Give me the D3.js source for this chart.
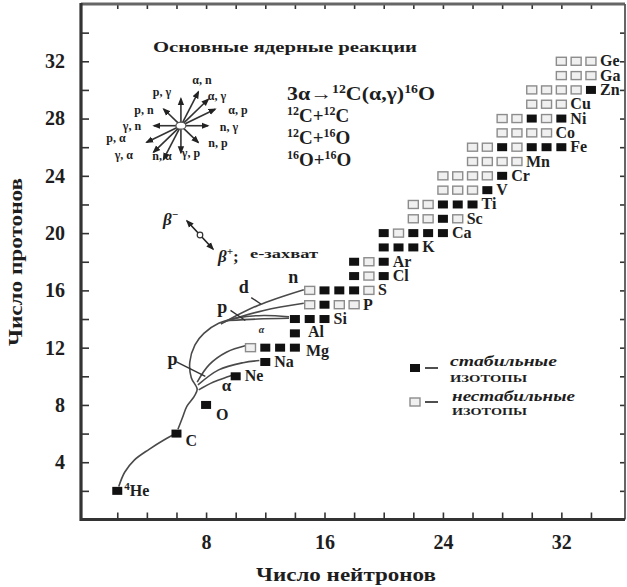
<!DOCTYPE html>
<html>
<head>
<meta charset="utf-8">
<script src="https://cdn.jsdelivr.net/npm/d3@7"></script>
<style>
  body { margin: 0; background: #fff; }
  svg { display: block; }
  text { font-family: "Liberation Serif", "DejaVu Serif", serif; font-weight: bold; fill: #1e1e1e; }
</style>
</head>
<body>
<svg id="chart" width="627" height="587"></svg>
<script>
// ** data: isotopes by row (Z), neutron numbers of stable / unstable squares
const elements = ["He","C","O","Ne","Na","Mg","Al","Si","P","S","Cl","Ar","K","Ca","Sc","Ti","V","Cr","Mn","Fe","Co","Ni","Cu","Zn","Ga","Ge"];
const protons  = [2, 6, 8, 10, 11, 12, 13, 14, 15, 16, 17, 18, 19, 20, 21, 22, 23, 24, 25, 26, 27, 28, 29, 30, 31, 32];
const stableN = [[2],[6],[8],[10],[12],[12,13,14],[14],[14,15,16],[16],[16,17,18],[18,20],[18,20],[20,21,22],[20,22,23,24],[24],[24,25,26],[27],[28],[],[28,30,31,32],[],[30,32],[],[34],[],[]];
const unstableN = [[],[],[],[],[],[11],[],[],[15,17,18],[15,19],[19],[19],[],[21],[22,23,25],[22,23],[24,25,26],[24,25,26,27],[26,27,28,29],[26,27,29],[28,29,30,31],[28,29,31],[30,31,32],[30,31,32,33],[32,33,34],[32,33,34]];

// axis ticks
const xTicks = d3.range(2, 36, 2);
const yTicks = d3.range(2, 36, 2);
const xLabels = [8, 16, 24, 32];
const yLabels = [4, 8, 12, 16, 20, 24, 28, 32];

// reaction paths, [N, Z] points
const pathHeC   = [[2.1,2.3],[2.5,3.3],[3.15,4.15],[4.15,4.9],[5.15,5.55],[5.85,5.95]];
const pathCArc  = [[6.1,6.3],[6.4,7.1],[6.7,7.9],[7.2,8.6],[7.4,9.1],[7.0,9.9],[6.9,11.0],[7.25,12.2],[7.85,13.0],[8.85,13.7],[10.2,14.1],[11.9,14.25],[13.6,14.15]];
const pathNe    = [[7.5,9.05],[8.5,9.6],[9.7,10.05]];
const pathNa    = [[7.45,9.4],[8.85,10.45],[10.5,10.95],[11.6,11.1]];
const pathMg    = [[7.4,9.6],[8.2,10.8],[9.4,11.7],[10.7,12.15]];
const pathN     = [[9.0,13.65],[11.5,14.95],[14.6,16.05]];
const pathP     = [[9.2,13.8],[11.9,14.6],[14.6,15.1]];
const pathSi    = [[9.5,13.9],[11.5,14.0],[13.6,14.05]];
// short crossing marks labelling paths
const markP1 = [[6.0,11.0],[7.95,10.0]];
const markP2 = [[9.65,14.6],[10.65,13.9]];
const markD  = [[11.05,15.5],[11.7,15.05]];

// reaction star: [label, dN, dZ]
const starCenter = [6.3, 27.5];
const reactions = [["p, γ",0,1],["α, n",1,2],["α, γ",2,2],["α, p",2,1],["n, γ",1,0],["n, p",1,-1],
                   ["γ, p",0,-1],["n, α",-1,-2],["γ, α",-2,-2],["p, α",-2,-1],["γ, n",-1,0],["p, n",-1,1]];
// where each reaction's label sits, px from the star centre
const starLabelAt = [[-19,-34],[21,-46],[36,-30],[57,-16],[48,1],[37,17],[10,27],[-19,30],[-57,29],[-65,12],[-49,0],[-37,-16]];

const svg = d3.select("#chart");
const x = d3.scaleLinear().domain([-0.45, 36.3]).range([81, 625]);
const y = d3.scaleLinear().domain([0, 36]).range([519.5, 4]);
const X0 = x.range()[0], X1 = x.range()[1], Y0 = y.range()[0], Y1 = y.range()[1];

svg.append("defs").append("marker").attr("id", "ah").attr("viewBox", "0 -5 10 10").attr("refX", 8).attr("refY", 0)
  .attr("markerWidth", 5).attr("markerHeight", 5).attr("orient", "auto-start-reverse")
  .append("path").attr("d", "M0,-4L10,0L0,4Z").attr("fill", "#222");

// ** axes (ticks point inward)
const axisG = svg.append("g");
const tickFmtY = d => yLabels.includes(d) ? d : "";
const tickFmtX = d => xLabels.includes(d) ? d : "";
axisG.append("g").attr("transform", `translate(${X0},0)`).call(d3.axisLeft(y).tickValues(yTicks).tickSize(-8).tickPadding(16).tickFormat(tickFmtY));
axisG.append("g").attr("transform", `translate(0,${Y0})`).call(d3.axisBottom(x).tickValues(xTicks).tickSize(-7).tickPadding(15).tickFormat(tickFmtX));
axisG.append("g").attr("transform", `translate(0,${Y1})`).call(d3.axisTop(x).tickValues(xTicks).tickSize(-5).tickFormat(""));
axisG.append("g").attr("transform", `translate(${X1},0)`).call(d3.axisRight(y).tickValues(yTicks).tickSize(-5).tickFormat(""));
axisG.selectAll(".domain").remove();
axisG.selectAll(".tick line").attr("stroke", "#333").attr("stroke-width", 1.6);
axisG.selectAll(".tick text").style("font-size", "20px").style("font-family", "'Liberation Serif', serif").style("font-weight", "bold").attr("fill", "#1e1e1e");
// frame
axisG.append("line").attr("x1", X0).attr("x2", X1).attr("y1", Y1).attr("y2", Y1).attr("stroke", "#666").attr("stroke-width", 3);
axisG.append("line").attr("x1", X1).attr("x2", X1).attr("y1", Y1).attr("y2", Y0).attr("stroke", "#555").attr("stroke-width", 1.8);
axisG.append("line").attr("x1", X0).attr("x2", X1).attr("y1", Y0).attr("y2", Y0).attr("stroke", "#333").attr("stroke-width", 3.2);
axisG.append("line").attr("x1", X0).attr("x2", X0).attr("y1", Y1-1).attr("y2", Y0+1.5).attr("stroke", "#333").attr("stroke-width", 3.2);

svg.append("text").attr("x", 346).attr("y", 581).attr("text-anchor", "middle").style("font-size", "19px")
  .attr("textLength", 180).attr("lengthAdjust", "spacingAndGlyphs").text("Число нейтронов");
svg.append("text").attr("transform", "translate(22,262) rotate(-90)").attr("text-anchor", "middle").style("font-size", "19px")
  .attr("textLength", 168).attr("lengthAdjust", "spacingAndGlyphs").text("Число протонов");

// ** reaction paths
const line = d3.line().x(d => x(d[0])).y(d => y(d[1])).curve(d3.curveCatmullRom.alpha(0.5));
const paths = [pathHeC, pathCArc, pathNe, pathNa, pathMg, pathN, pathP, pathSi];
svg.append("g").selectAll("path").data(paths).join("path").attr("d", line)
  .attr("fill", "none").attr("stroke", "#4a4a4a").attr("stroke-width", 1.6);
svg.append("g").selectAll("path").data([markP1, markP2, markD]).join("path").attr("d", d3.line().x(d => x(d[0])).y(d => y(d[1])))
  .attr("stroke", "#333").attr("stroke-width", 1.4);

// ** isotope squares
const cells = [];
protons.forEach((z, i) => {
  stableN[i].forEach(n => cells.push({ n, z, stable: true }));
  unstableN[i].forEach(n => cells.push({ n, z, stable: false }));
});
const SW = 10, SH = 8;
svg.append("g").selectAll("rect").data(cells).join("rect")
  .attr("x", d => x(d.n) - SW/2).attr("y", d => y(d.z) - SH/2).attr("width", SW).attr("height", SH)
  .attr("fill", d => d.stable ? "#111" : "#f0f0f0").attr("stroke", d => d.stable ? "none" : "#8c8c8c").attr("stroke-width", 1.4);

// element labels just right of each row
const labelShift = { He: [-2, 0], C: [0, 7], O: [1, 10], Mg: [2, 3], Al: [4, -1] };
const labG = svg.append("g").style("font-size", "16px");
elements.forEach((el, i) => {
  const maxN = d3.max([...stableN[i], ...unstableN[i]]);
  const [dx, dy] = labelShift[el] || [0, 0];
  const t = labG.append("text").attr("x", x(maxN) + 9 + dx).attr("y", y(protons[i]) + 5 + dy);
  if (el === "He") { t.append("tspan").attr("dy", -6).style("font-size", "11px").text("4"); t.append("tspan").attr("dy", 6).text("He"); }
  else t.text(el);
});

// path labels
const lbl = (px, py, s, size) => svg.append("text").attr("x", px).attr("y", py).style("font-size", size + "px").text(s);
lbl(x(5.4), y(10.8), "p", 18);
lbl(x(9.05), y(9.0), "α", 17);
lbl(x(8.75), y(14.4), "p", 18);
lbl(x(10.2), y(15.85), "d", 18);
lbl(x(13.55), y(16.5), "n", 18);
lbl(x(11.55), y(13.05), "α", 10).style("font-style", "italic");

// ** legend
const leg = svg.append("g");
leg.append("rect").attr("x", 410).attr("y", 364).attr("width", SW).attr("height", SH).attr("fill", "#111");
leg.append("rect").attr("x", 410).attr("y", 398).attr("width", SW).attr("height", SH).attr("fill", "#f0f0f0").attr("stroke", "#8c8c8c").attr("stroke-width", 1.4);
leg.append("line").attr("x1", 425).attr("x2", 438).attr("y1", 368).attr("y2", 368).attr("stroke", "#222").attr("stroke-width", 1.6);
leg.append("line").attr("x1", 425).attr("x2", 438).attr("y1", 402).attr("y2", 402).attr("stroke", "#222").attr("stroke-width", 1.6);
leg.append("text").attr("x", 450).attr("y", 366).style("font-size", "14px").style("font-style", "italic").attr("textLength", 107).attr("lengthAdjust", "spacingAndGlyphs").text("стабильные");
leg.append("text").attr("x", 450).attr("y", 382).style("font-size", "11px").attr("textLength", 77).attr("lengthAdjust", "spacingAndGlyphs").text("ИЗОТОПЫ");
leg.append("text").attr("x", 452).attr("y", 401).style("font-size", "14px").style("font-style", "italic").attr("textLength", 123).attr("lengthAdjust", "spacingAndGlyphs").text("нестабильные");
leg.append("text").attr("x", 452).attr("y", 415).style("font-size", "11px").attr("textLength", 75).attr("lengthAdjust", "spacingAndGlyphs").text("ИЗОТОПЫ");

// ** title and reaction list
svg.append("text").attr("x", 153).attr("y", 52).style("font-size", "15px").attr("textLength", 264).attr("lengthAdjust", "spacingAndGlyphs").text("Основные ядерные реакции");
const richLine = (px, py, parts) => {
  const t = svg.append("text").attr("x", px).attr("y", py).style("font-size", "19px");
  let up = false;
  parts.forEach(([s, sup]) => {
    const dy = sup && !up ? -7 : (!sup && up ? 7 : 0);
    up = sup;
    t.append("tspan").attr("dy", dy).style("font-size", sup ? "12px" : null).text(s);
  });
  return t;
};
richLine(287, 100, [["3α→",0],["12",1],["C(α,γ)",0],["16",1],["O",0]]).attr("textLength", 148).attr("lengthAdjust", "spacingAndGlyphs");
richLine(287, 122, [["12",1],["C+",0],["12",1],["C",0]]);
richLine(287, 144, [["12",1],["C+",0],["16",1],["O",0]]);
richLine(287, 166, [["16",1],["O+",0],["16",1],["O",0]]);

// ** reaction star
const cx = x(starCenter[0]), cy = y(starCenter[1]);
const kx = x(1) - x(0), ky = y(0) - y(1);
const starG = svg.append("g");
const arrows = reactions.map(([label, dn, dz], i) => {
  const vx = dn * kx, vy = -dz * ky, len = Math.hypot(vx, vy);
  const span = Math.abs(dn) + Math.abs(dz);
  const L = span >= 3 || Math.abs(dn) === 2 ? 38 : span === 2 ? 24 : 27;
  return { label, ux: vx/len, uy: vy/len, L, at: starLabelAt[i] };
});
starG.selectAll("line").data(arrows).join("line")
  .attr("x1", d => cx + d.ux*3).attr("y1", d => cy + d.uy*3).attr("x2", d => cx + d.ux*d.L).attr("y2", d => cy + d.uy*d.L)
  .attr("stroke", "#333").attr("stroke-width", 1.6).attr("marker-end", "url(#ah)");
starG.append("ellipse").attr("cx", cx).attr("cy", cy).attr("rx", 5).attr("ry", 3.5).attr("fill", "#fff").attr("stroke", "#555").attr("stroke-width", 1.2);
starG.selectAll("text").data(arrows).join("text")
  .attr("x", d => cx + d.at[0]).attr("y", d => cy + d.at[1] + 4)
  .attr("text-anchor", "middle").style("font-size", "12px").text(d => d.label);

// ** beta decay arrow
const bx1 = 187, by1 = 221, bx2 = 213, by2 = 249;
svg.append("line").attr("x1", bx1).attr("y1", by1).attr("x2", bx2).attr("y2", by2).attr("stroke", "#222").attr("stroke-width", 1.6)
  .attr("marker-start", "url(#ah)").attr("marker-end", "url(#ah)");
svg.append("circle").attr("cx", (bx1+bx2)/2).attr("cy", (by1+by2)/2).attr("r", 2.8).attr("fill", "#fff").attr("stroke", "#333").attr("stroke-width", 1.2);
const bm = svg.append("text").attr("x", 163).attr("y", 225).style("font-size", "17px").style("font-style", "italic");
bm.append("tspan").text("β"); bm.append("tspan").attr("dy", -7).style("font-size", "11px").text("−");
const bp = svg.append("text").attr("x", 218).attr("y", 262).style("font-size", "17px").style("font-style", "italic");
bp.append("tspan").text("β"); bp.append("tspan").attr("dy", -7).style("font-size", "11px").text("+");
bp.append("tspan").attr("dy", 7).style("font-style", "normal").text(";");
svg.append("text").attr("x", 250).attr("y", 258).style("font-size", "12px").attr("textLength", 68).attr("lengthAdjust", "spacingAndGlyphs").text("е-захват");
</script>
</body>
</html>
